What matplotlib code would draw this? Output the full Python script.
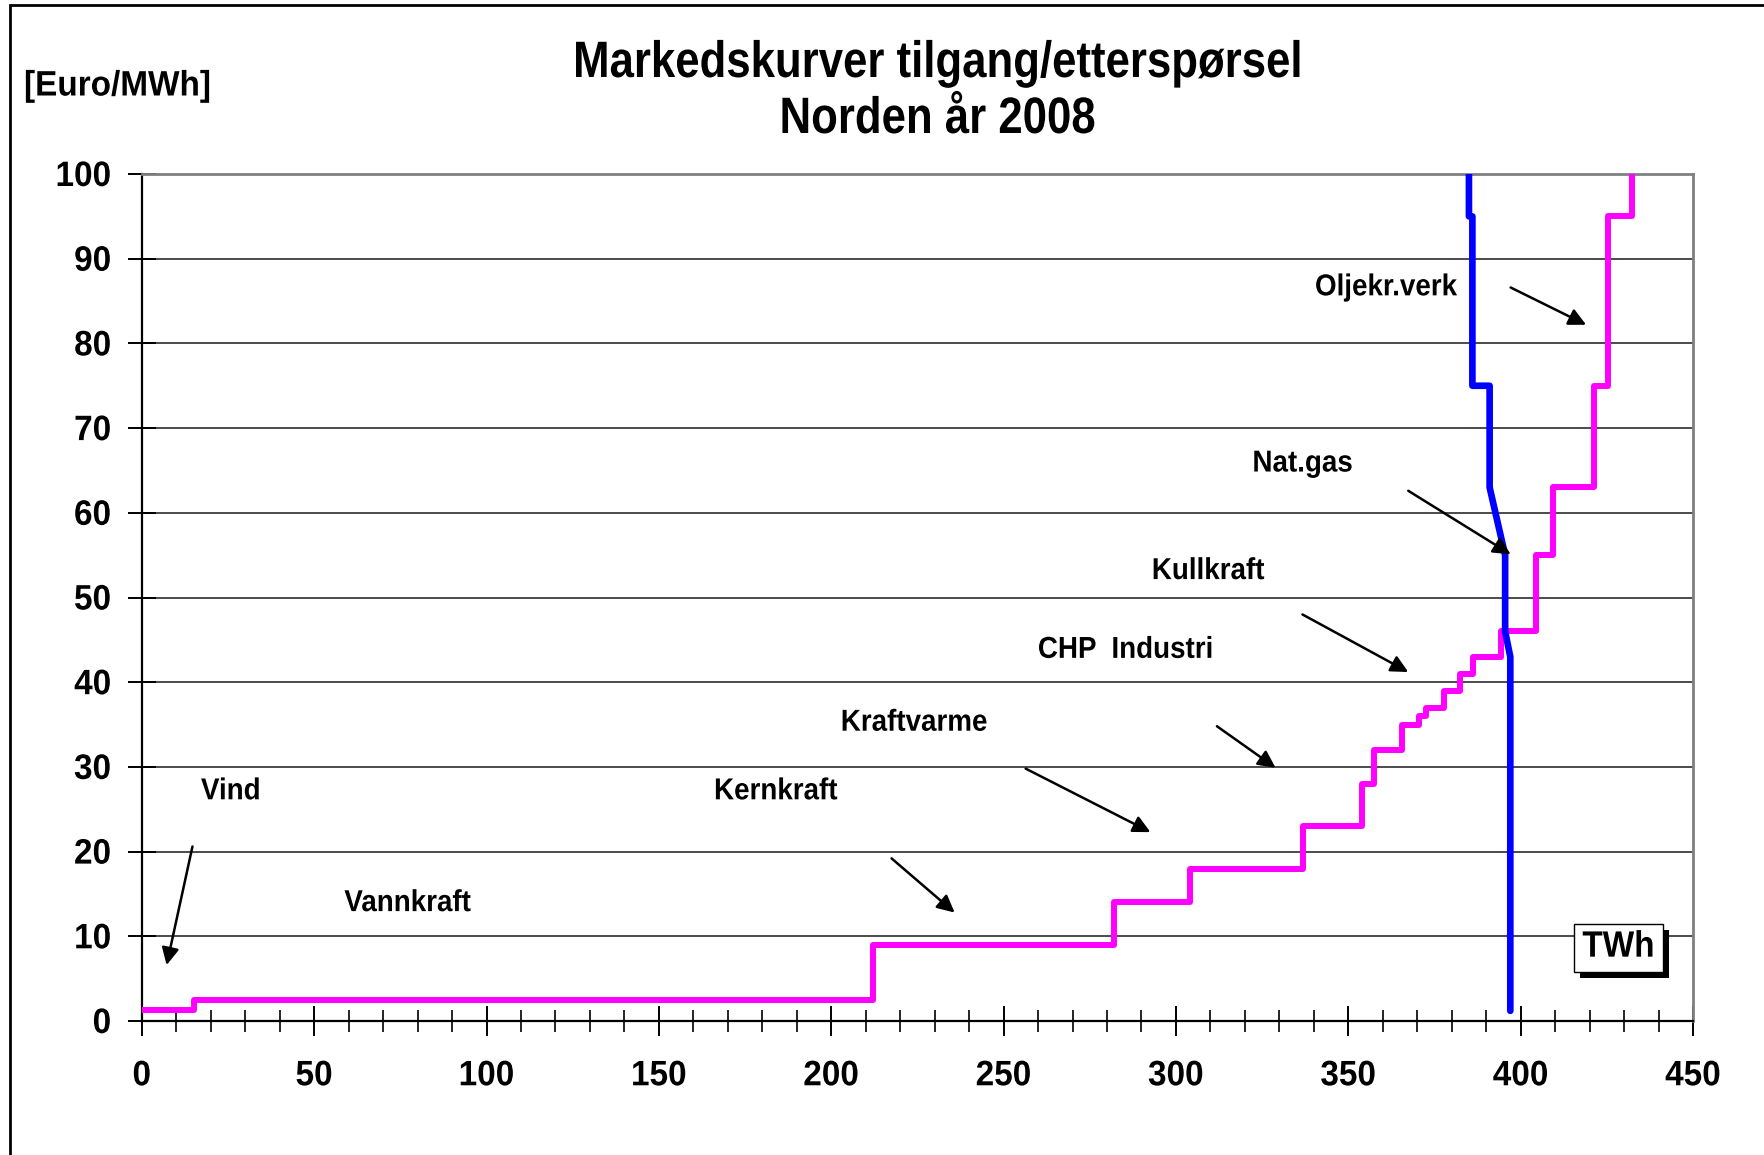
import matplotlib
matplotlib.use("Agg")
import matplotlib.pyplot as plt
from matplotlib.patches import Rectangle
from matplotlib.ticker import MultipleLocator
from matplotlib.transforms import Affine2D
import matplotlib.patheffects as pe

plt.rcParams['font.family'] = ['Liberation Sans', 'DejaVu Sans']
plt.rcParams['font.weight'] = 'bold'

# Supply curve (TWh, Euro/MWh), step levels starting at each x
supply_q = [0, 15, 212, 282, 304, 337, 354, 357.5, 365.5, 370.6, 372.5, 377.8,
            382.3, 386.3, 394.2, 404.4, 409.5, 421.3, 425.2, 432.4]
supply_p = [1.3, 2.5, 9, 14, 18, 23, 28, 32, 35, 36, 37, 39,
            41, 43, 46, 55, 63, 75, 95, 100]

# Demand curve
demand_q = [385, 385, 386, 386, 391, 391, 395.5, 395.5, 397, 397]
demand_p = [100, 95, 95, 75, 75, 63, 55, 46, 43, 1.2]

# Annotations: label, label position, arrow start, arrow end
labels = ["Vind", "Vannkraft", "Kernkraft", "Kraftvarme", "CHP  Industri",
          "Kullkraft", "Nat.gas", "Oljekr.verk"]
label_pos = [(25.8, 27.0), (77.1, 13.8), (183.9, 27.0), (224.0, 35.1),
             (285.4, 43.7), (309.3, 53.0), (336.7, 65.7), (360.9, 86.5)]
arrows = [((14.7, 20.6), (7.2, 6.6)),
          ((217.5, 19.2), (235.8, 12.8)),
          ((256.4, 29.8), (292.6, 22.3)),
          ((311.9, 34.8), (328.9, 29.9)),
          ((336.7, 48.0), (367.4, 41.2)),
          ((367.4, 62.6), (397.1, 55.1)),
          ((397.1, 86.6), (419.0, 82.2))]


class StretchY(pe.AbstractPathEffect):
    """Stretch text glyphs vertically about their baseline (condensed look)."""
    def __init__(self, sy):
        super().__init__()
        self.sy = sy

    def draw_path(self, renderer, gc, tpath, affine, rgbFace=None):
        renderer.draw_path(gc, tpath, Affine2D().scale(1, self.sy) + affine, rgbFace)


W, H = 1765, 1155
fig = plt.figure(figsize=(W / 100, H / 100), dpi=100)
fig.patch.set_facecolor('white')

left, right, top, bottom = 141.8, 1693, 174, 1021
ax = fig.add_axes([left / W, 1 - bottom / H, (right - left) / W, (bottom - top) / H])

ax.set_xlim(0, 450)
ax.set_ylim(0, 100)

ax.yaxis.set_major_locator(MultipleLocator(10))
ax.xaxis.set_major_locator(MultipleLocator(50))
ax.xaxis.set_minor_locator(MultipleLocator(10))
ax.grid(axis='y', color='#1a1a1a', lw=1.1)
ax.set_axisbelow(True)

for s in ['top', 'right']:
    ax.spines[s].set_color('#808080')
    ax.spines[s].set_linewidth(2)
for s in ['left', 'bottom']:
    ax.spines[s].set_color('black')
    ax.spines[s].set_linewidth(1.6)

ax.tick_params(axis='y', which='major', direction='inout', length=20, width=1.4,
               labelsize=24, pad=12)
ax.tick_params(axis='x', which='major', direction='inout', length=22, width=1.4,
               labelsize=24, pad=18)
ax.tick_params(axis='x', which='minor', direction='inout', length=16, width=1.2)
for lab in ax.get_xticklabels() + ax.get_yticklabels():
    lab.set_fontweight('bold')
    lab.set_path_effects([StretchY(1.06)])

ax.step(supply_q, supply_p, where='post', color='#FF00FF', lw=4.3,
        solid_joinstyle='round', solid_capstyle='butt', zorder=3)
ax.plot(demand_q, demand_p, color='#0000FF', lw=4.8,
        solid_joinstyle='round', solid_capstyle='round', zorder=4)

for lab, pos in zip(labels, label_pos):
    ax.text(pos[0], pos[1], lab, ha='center', va='center', fontsize=20,
            fontweight='bold', zorder=6, path_effects=[StretchY(1.09)])
for (s, e) in arrows:
    ax.annotate('', xy=e, xytext=s,
                arrowprops=dict(arrowstyle='-|>', color='black', lw=1.8,
                                mutation_scale=26, shrinkA=0, shrinkB=0),
                zorder=6)

t = ax.text(428.4, 8.6, 'TWh', ha='center', va='center', fontsize=24,
            fontweight='bold', zorder=7, path_effects=[StretchY(1.1)],
            bbox=dict(boxstyle='square,pad=0.25', fc='white', ec='black', lw=1))
t.get_bbox_patch().set_path_effects([
    pe.SimplePatchShadow(offset=(4, -4), shadow_rgbFace='black', alpha=1),
    pe.Normal()])

fig.text(937.6 / W, 1 - 77 / H, 'Markedskurver tilgang/etterspørsel',
         ha='center', va='baseline', fontsize=31.5, fontweight='bold',
         path_effects=[StretchY(1.17)])
fig.text(937.6 / W, 1 - 133 / H, 'Norden år 2008',
         ha='center', va='baseline', fontsize=31.5, fontweight='bold',
         path_effects=[StretchY(1.17)])
fig.text(24 / W, 1 - 87 / H, '[Euro/MWh]', ha='left', va='center',
         fontsize=24, fontweight='bold', path_effects=[StretchY(1.06)])

fig.patches.append(Rectangle((10 / W, -0.5), 2, (1 - 5 / H) + 0.5,
                             transform=fig.transFigure, fill=False,
                             ec='black', lw=2))

fig.savefig('out.png', dpi=100, facecolor='white')
